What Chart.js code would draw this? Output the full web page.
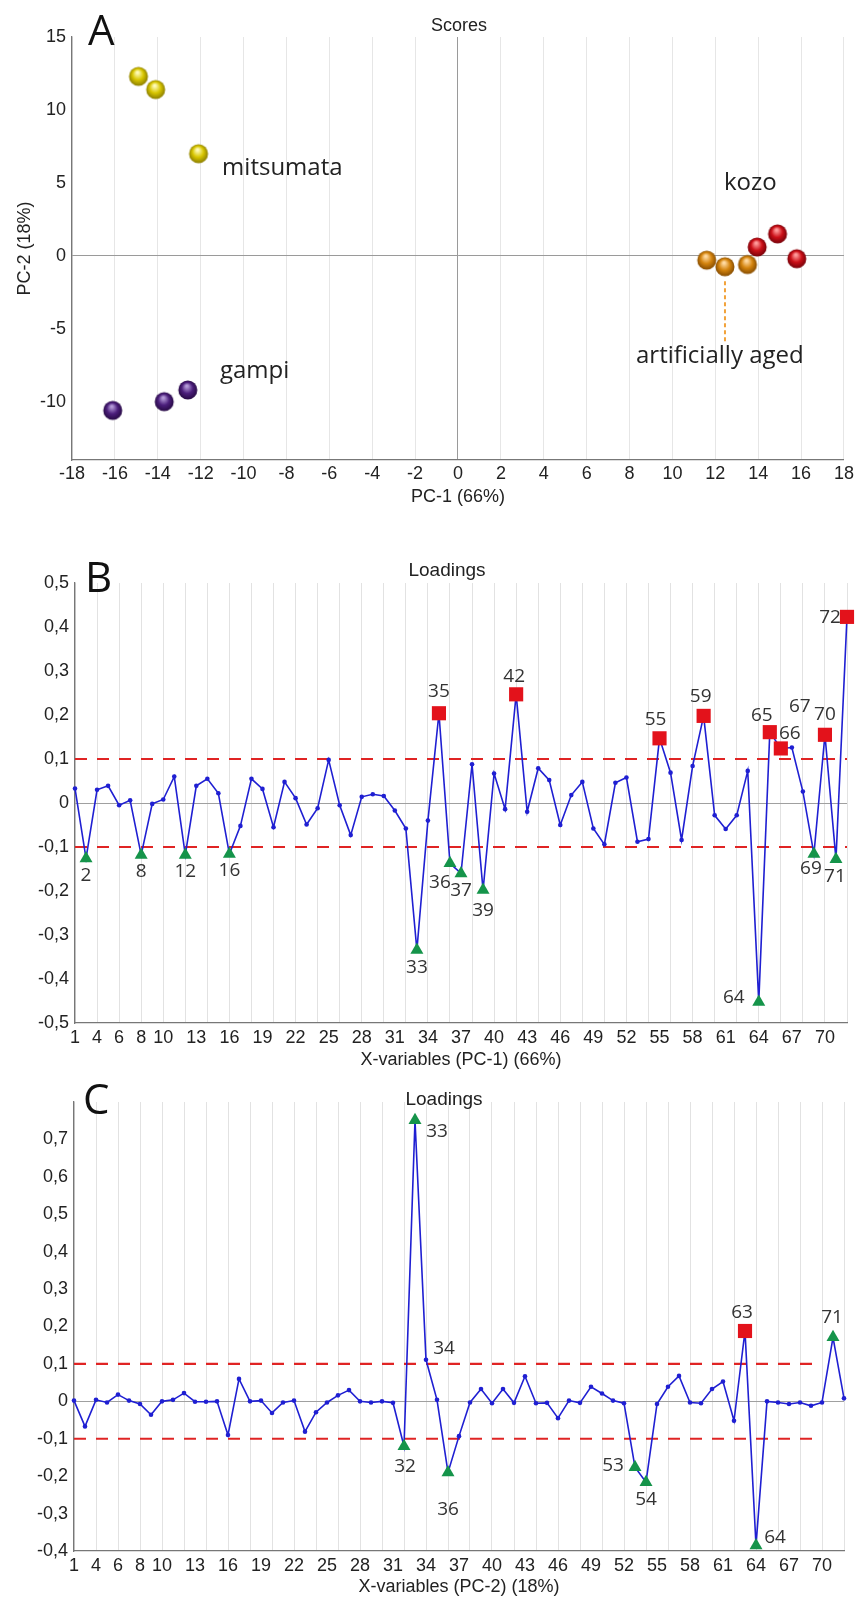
<!DOCTYPE html>
<html>
<head>
<meta charset="utf-8">
<script src="https://cdn.jsdelivr.net/npm/chart.js@4.4.1/dist/chart.umd.min.js"></script>
<style>
html, body { margin: 0; padding: 0; background: #fff; }
#page { position: relative; width: 857px; height: 1598px; overflow: hidden; }
canvas { position: absolute; left: 0; }
</style>
</head>
<body>
<div id="page">
  <canvas id="scores" width="857" height="515" style="top:0px"></canvas>
  <canvas id="load1" width="857" height="545" style="top:530px"></canvas>
  <canvas id="load2" width="857" height="523" style="top:1075px"></canvas>
</div>
<script>
// Panel A - PCA scores
var mitsumataX = [-14.9, -14.1, -12.1];
var mitsumataY = [12.3, 11.4, 7.0];
var gampiX = [-16.1, -13.7, -12.6];
var gampiY = [-10.6, -10.0, -9.2];
var agedX = [11.6, 12.45, 13.5];
var agedY = [-0.3, -0.75, -0.6];
var kozoX = [13.95, 14.9, 15.8];
var kozoY = [0.6, 1.5, -0.2];
var scoreTicksX = [-18, -16, -14, -12, -10, -8, -6, -4, -2, 0, 2, 4, 6, 8, 10, 12, 14, 16, 18];
var scoreTicksY = [-10, -5, 0, 5, 10, 15];

// Panels B and C - loadings per X-variable (variable 3 is not in the set)
var varNames = [1, 2, 4, 5, 6, 7, 8, 9, 10, 11, 12, 13, 14, 15, 16, 17, 18, 19, 20, 21, 22, 23, 24, 25, 26,
  27, 28, 29, 30, 31, 32, 33, 34, 35, 36, 37, 38, 39, 40, 41, 42, 43, 44, 45, 46, 47, 48, 49, 50, 51,
  52, 53, 54, 55, 56, 57, 58, 59, 60, 61, 62, 63, 64, 65, 66, 67, 68, 69, 70, 71, 72];
var pc1Loadings = [0.033, -0.126, 0.03, 0.039, -0.005, 0.006, -0.118, -0.002, 0.008, 0.06,
  -0.118, 0.039, 0.055, 0.022, -0.116, -0.052, 0.055, 0.032, -0.055, 0.048,
  0.011, -0.049, -0.012, 0.098, -0.005, -0.073, 0.014, 0.02, 0.016, -0.017,
  -0.058, -0.334, -0.04, 0.204, -0.137, -0.16, 0.088, -0.198, 0.067, -0.014,
  0.247, -0.02, 0.079, 0.052, -0.05, 0.018, 0.048, -0.058, -0.094, 0.046,
  0.058, -0.088, -0.082, 0.147, 0.069, -0.084, 0.084, 0.198, -0.028, -0.059,
  -0.028, 0.073, -0.452, 0.161, 0.124, 0.126, 0.026, -0.116, 0.155, -0.128, 0.423];
var pc2Loadings = [0.002, -0.067, 0.004, -0.003, 0.018, 0.002, -0.007, -0.036, 0.0, 0.004,
  0.022, -0.001, -0.001, 0.0, -0.09, 0.06, 0.0, 0.002, -0.031, -0.003,
  0.002, -0.081, -0.029, -0.003, 0.016, 0.03, 0.0, -0.003, 0.0, -0.004,
  -0.12, 0.751, 0.111, 0.004, -0.19, -0.093, -0.003, 0.033, -0.005, 0.033,
  -0.004, 0.067, -0.005, -0.004, -0.045, 0.002, -0.004, 0.039, 0.021, 0.002,
  -0.005, -0.176, -0.216, -0.007, 0.039, 0.068, -0.003, -0.005, 0.033, 0.053,
  -0.052, 0.188, -0.385, 0.0, -0.003, -0.007, -0.003, -0.012, -0.003, 0.171, 0.008];
var shownNames = [1, 4, 6, 8, 10, 13, 16, 19, 22, 25, 28, 31, 34, 37, 40, 43, 46, 49, 52, 55, 58, 61, 64, 67, 70];
var pc1TicksY = [-0.5, -0.4, -0.3, -0.2, -0.1, 0, 0.1, 0.2, 0.3, 0.4, 0.5];
var pc2TicksY = [-0.4, -0.3, -0.2, -0.1, 0, 0.1, 0.2, 0.3, 0.4, 0.5, 0.6, 0.7];
var pc1High = [35, 42, 55, 59, 65, 66, 70, 72];
var pc1Low = [2, 8, 12, 16, 33, 36, 37, 39, 64, 69, 71];
var pc2High = [63];
var pc2Low = [32, 33, 36, 53, 54, 64, 71];
var limits = [0.1, -0.1];

var SANS = '"Liberation Sans", Arial, sans-serif';
var OPEN = '"Open Sans", "DejaVu Sans", sans-serif';
Chart.defaults.font.family = SANS;
Chart.defaults.font.size = 18;
Chart.defaults.color = '#222';

function pairs(xs, ys) {
  return xs.map(function (x, i) { return { x: x, y: ys[i] }; });
}
function series(values) {
  return values.map(function (v, i) { return { x: i + 1, y: v }; });
}
function picked(names, values) {
  return names.map(function (n) {
    var i = varNames.indexOf(n);
    return { x: i + 1, y: values[i] };
  });
}
function comma(v) {
  return v === 0 ? '0' : v.toFixed(1).replace('.', ',');
}

// shaded ball used as point style in the scores plot
function sphere(base, light, dark) {
  var c = document.createElement('canvas');
  c.width = 22; c.height = 22;
  var g = c.getContext('2d');
  var grad = g.createRadialGradient(10, 7, 1, 11, 11, 10);
  grad.addColorStop(0, light);
  grad.addColorStop(0.5, base);
  grad.addColorStop(1, dark);
  g.fillStyle = grad;
  g.beginPath();
  g.arc(11, 11, 9.5, 0, Math.PI * 2);
  g.fill();
  return c;
}

// extra lines and texts drawn through the chart's scales
var notes = {
  id: 'notes',
  beforeDatasetsDraw: function (chart, args, opts) {
    var ctx = chart.ctx, xs = chart.scales.x, ys = chart.scales.y;
    ctx.save();
    (opts.lines || []).forEach(function (l) {
      ctx.strokeStyle = l.color;
      ctx.lineWidth = l.width;
      ctx.setLineDash(l.dash || []);
      ctx.beginPath();
      ctx.moveTo(xs.getPixelForValue(l.x0), ys.getPixelForValue(l.y0));
      ctx.lineTo(xs.getPixelForValue(l.x1), ys.getPixelForValue(l.y1));
      ctx.stroke();
    });
    ctx.restore();
  },
  afterDatasetsDraw: function (chart, args, opts) {
    var ctx = chart.ctx, xs = chart.scales.x, ys = chart.scales.y;
    ctx.save();
    (opts.texts || []).forEach(function (t) {
      ctx.font = t.font;
      ctx.fillStyle = t.color || '#222';
      ctx.textAlign = t.align || 'center';
      ctx.textBaseline = t.baseline || 'middle';
      var px = t.px != null ? t.px : xs.getPixelForValue(t.x) + (t.dx || 0);
      var py = t.py != null ? t.py : ys.getPixelForValue(t.y) + (t.dy || 0);
      ctx.fillText(t.text, px, py);
    });
    ctx.restore();
  }
};

// ---------- Panel A ----------
function ballSet(xs, ys, img) {
  return { data: pairs(xs, ys), pointStyle: img, pointRadius: 10, clip: false };
}

new Chart(document.getElementById('scores'), {
  type: 'scatter',
  data: {
    datasets: [
      ballSet(mitsumataX, mitsumataY, sphere('#d8c600', '#fffbb8', '#857800')),
      ballSet(gampiX, gampiY, sphere('#4c1f7c', '#b49ad8', '#240840')),
      ballSet(agedX, agedY, sphere('#d4840e', '#ffd9a0', '#804800')),
      ballSet(kozoX, kozoY, sphere('#cc1018', '#ff9a9a', '#700008'))
    ]
  },
  options: {
    responsive: false,
    animation: false,
    layout: { padding: { left: 0, right: 11, top: 37, bottom: 0 } },
    plugins: {
      legend: { display: false },
      tooltip: { enabled: false },
      notes: {
        lines: [
          { x0: agedX[1], y0: agedY[1] - 1.0, x1: agedX[1], y1: -5.95, color: '#f2a23a', width: 2, dash: [4, 3] }
        ],
        texts: [
          { text: 'A', px: 88, py: 45, align: 'left', baseline: 'alphabetic', font: '42px ' + OPEN, color: '#111' },
          { text: 'Scores', px: 459, py: 26, font: '18px ' + SANS },
          { text: 'mitsumata', x: -11.0, y: 6.0, align: 'left', font: '24px ' + OPEN },
          { text: 'gampi', x: -11.1, y: -7.9, align: 'left', font: '24px ' + OPEN },
          { text: 'kozo', x: 12.4, y: 5.0, align: 'left', font: '24px ' + OPEN },
          { text: 'artificially aged', x: 8.3, y: -6.9, align: 'left', font: '24px ' + OPEN }
        ]
      }
    },
    scales: {
      x: {
        type: 'linear', min: -18, max: 18,
        afterBuildTicks: function (s) { s.ticks = scoreTicksX.map(function (v) { return { value: v }; }); },
        afterFit: function (s) { s.height = 55; },
        ticks: { padding: 3, maxRotation: 0, autoSkip: false },
        grid: {
          drawTicks: false,
          color: function (c) { return c.tick && c.tick.value === 0 ? '#9a9a9a' : '#e6e6e6'; }
        },
        border: { color: '#777', width: 1.3 },
        title: { display: true, text: 'PC-1 (66%)', padding: { top: 0, bottom: 7 } }
      },
      y: {
        type: 'linear', min: -14, max: 15,
        afterBuildTicks: function (s) { s.ticks = scoreTicksY.map(function (v) { return { value: v }; }); },
        afterFit: function (s) { s.width = 72; },
        ticks: { padding: 6 },
        grid: {
          drawTicks: false,
          color: function (c) { return c.tick && c.tick.value === 0 ? '#9a9a9a' : 'rgba(0,0,0,0)'; }
        },
        border: { color: '#777', width: 1.3 },
        title: { display: true, text: 'PC-2 (18%)', padding: { top: 14, bottom: 0 } }
      }
    }
  },
  plugins: [notes]
});

// ---------- Panels B and C ----------
function loadingsChart(id, values, high, low, yTicks, yMin, yMax, o) {
  var texts = [
    { text: o.letter, px: o.letterX, py: o.letterY, align: 'left', baseline: 'alphabetic', font: '42px ' + OPEN, color: '#111' },
    { text: 'Loadings', px: o.titleX, py: o.titleY, font: '19px ' + SANS }
  ];
  Object.keys(o.place).forEach(function (k) {
    var n = Number(k), i = varNames.indexOf(n);
    texts.push({ text: String(n), x: i + 1, y: values[i], dx: o.place[k][0], dy: o.place[k][1], font: '19px ' + OPEN, color: '#333' });
  });
  var lines = limits.map(function (v) {
    return { x0: 1, y0: v, x1: o.limitEnd, y1: v, color: '#e02424', width: 2.2, dash: [12, 10] };
  });
  return new Chart(document.getElementById(id), {
    type: 'scatter',
    data: {
      datasets: [
        { data: picked(high, values), pointStyle: 'rect', pointRadius: 10, pointBackgroundColor: '#e3121b',
          pointBorderWidth: 0, clip: false, order: 0 },
        { data: picked(low, values), pointStyle: 'triangle', pointRadius: 7.5, pointBackgroundColor: '#15944a',
          pointBorderWidth: 0, clip: false, order: 0 },
        { data: series(values), showLine: true, borderColor: '#1f1fd2', borderWidth: 1.6,
          pointRadius: 2.3, pointBackgroundColor: '#1f1fd2', pointBorderWidth: 0, clip: false, order: 1 }
      ]
    },
    options: {
      responsive: false,
      animation: false,
      layout: { padding: { left: 0, right: o.right, top: o.top, bottom: 0 } },
      plugins: {
        legend: { display: false },
        tooltip: { enabled: false },
        notes: { lines: lines, texts: texts }
      },
      scales: {
        x: {
          type: 'linear', min: 1, max: varNames.length,
          afterBuildTicks: function (s) { s.ticks = varNames.map(function (n, i) { return { value: i + 1 }; }); },
          afterFit: function (s) { s.height = o.xHeight; },
          ticks: {
            padding: 4, maxRotation: 0, autoSkip: false,
            callback: function (v) {
              var n = varNames[v - 1];
              return shownNames.indexOf(n) >= 0 ? String(n) : '';
            }
          },
          grid: {
            drawTicks: false,
            color: function (c) { return c.tick && c.tick.value % 2 === 1 ? '#e2e2e2' : 'rgba(0,0,0,0)'; }
          },
          border: { color: '#777', width: 1.3 },
          title: { display: true, text: o.xTitle, padding: { top: 0, bottom: o.titlePad } }
        },
        y: {
          type: 'linear', min: yMin, max: yMax,
          afterBuildTicks: function (s) { s.ticks = yTicks.map(function (v) { return { value: v }; }); },
          afterFit: function (s) { s.width = o.yWidth; },
          ticks: { padding: 6, callback: function (v) { return comma(v); } },
          grid: {
            drawTicks: false,
            color: function (c) { return c.tick && c.tick.value === 0 ? '#a0a0a0' : 'rgba(0,0,0,0)'; }
          },
          border: { color: '#777', width: 1.3 }
        }
      }
    },
    plugins: [notes]
  });
}

loadingsChart('load1', pc1Loadings, pc1High, pc1Low, pc1TicksY, -0.5, 0.5, {
  letter: 'B', letterX: 85, letterY: 62, titleX: 447, titleY: 41,
  top: 53, right: 8, xHeight: 52, yWidth: 75, titlePad: 4, limitEnd: 71,
  xTitle: 'X-variables (PC-1) (66%)',
  place: { 2: [0, 17], 8: [0, 17], 12: [0, 17], 16: [0, 17], 33: [0, 18], 35: [0, -22], 36: [-10, 19],
    37: [0, 17], 39: [0, 20], 42: [-2, -18], 55: [-4, -19], 59: [-3, -19], 64: [-25, -4], 65: [-8, -17],
    66: [9, -15], 67: [8, -41], 69: [-3, 15], 70: [0, -20], 71: [-1, 17], 72: [-17, 1] }
});

loadingsChart('load2', pc2Loadings, pc2High, pc2Low, pc2TicksY, -0.4, 0.8, {
  letter: 'C', letterX: 83, letterY: 39, titleX: 444, titleY: 25,
  top: 27, right: 13, xHeight: 47, yWidth: 74, titlePad: 0, limitEnd: 68.6,
  xTitle: 'X-variables (PC-2) (18%)',
  place: { 32: [1, 20], 33: [22, 11], 34: [18, -11], 36: [0, 37], 53: [-22, -2], 54: [0, 17],
    63: [-3, -18], 64: [19, -8], 71: [-1, -20] }
});
</script>
</body>
</html>
